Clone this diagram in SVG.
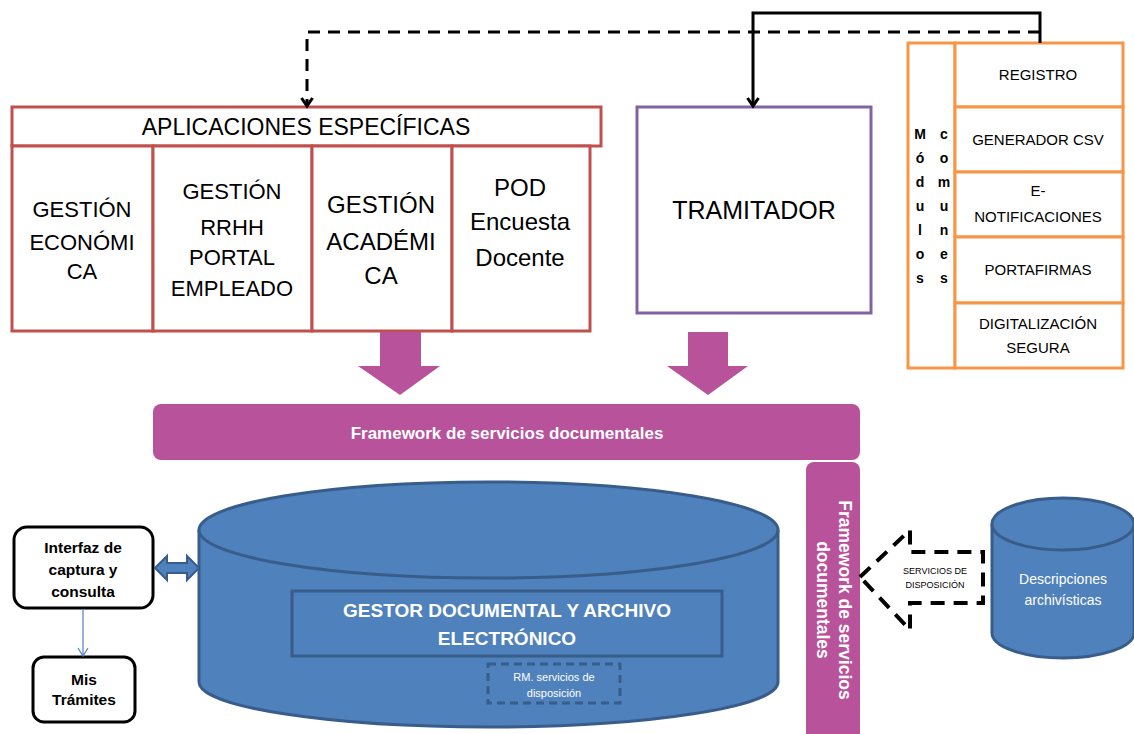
<svg xmlns="http://www.w3.org/2000/svg" width="1134" height="734" viewBox="0 0 1134 734">
<defs>
<style>
text{font-family:"Liberation Sans",Arial,sans-serif;fill:#000;text-anchor:middle}
.red{fill:#fff;stroke:#C0504D;stroke-width:3}
.org{fill:#fff;stroke:#F79646;stroke-width:3}
.pur{fill:#fff;stroke:#8064A2;stroke-width:3}
.bar{fill:#B7529B}
.blue{fill:#4F81BD;stroke:#385D8A;stroke-width:3}
.rbox{fill:#fff;stroke:#000;stroke-width:3}
.t22{font-size:22px}
.t24{font-size:24px}
.t15{font-size:15px}
.w{fill:#fff}
.b{font-weight:bold}
</style>
<marker id="ah" markerWidth="14" markerHeight="14" refX="11" refY="7" orient="auto" markerUnits="userSpaceOnUse" viewBox="0 0 14 14">
<path d="M3,1.5 L11,7 L3,12.5" fill="none" stroke="#000" stroke-width="3"/>
</marker>
<marker id="ahb" markerWidth="12" markerHeight="12" refX="10" refY="6" orient="auto" markerUnits="userSpaceOnUse" viewBox="0 0 12 12">
<path d="M2,1 L10,6 L2,11" fill="none" stroke="#4F81BD" stroke-width="1.2"/>
</marker>
</defs>
<rect width="1134" height="734" fill="#fff"/>

<g id="aplicaciones">
<rect class="red" x="12" y="107" width="589" height="39"/>
<text font-size="23" x="306" y="135">APLICACIONES ESPECÍFICAS</text>
<rect class="red" x="12" y="146" width="141" height="185"/>
<rect class="red" x="153" y="146" width="159" height="185"/>
<rect class="red" x="312" y="146" width="140" height="185"/>
<rect class="red" x="452" y="146" width="138" height="185"/>
</g>
<g id="gestion-economica">
<text class="t22" x="82" y="217">GESTIÓN</text>
<text class="t22" x="82" y="250">ECONÓMI</text>
<text class="t22" x="82" y="279">CA</text>
</g>
<g id="gestion-rrhh">
<text class="t22" x="232" y="199">GESTIÓN</text>
<text class="t22" x="232" y="235">RRHH</text>
<text class="t22" x="232" y="265">PORTAL</text>
<text class="t22" x="232" y="296">EMPLEADO</text>
</g>
<g id="gestion-academica">
<text class="t24" x="381" y="213">GESTIÓN</text>
<text class="t24" x="381" y="250">ACADÉMI</text>
<text class="t24" x="381" y="284">CA</text>
</g>
<g id="pod">
<text class="t24" x="520" y="196">POD</text>
<text class="t24" x="520" y="230">Encuesta</text>
<text class="t24" x="520" y="266">Docente</text>
</g>

<g id="tramitador">
<rect class="pur" x="637" y="107" width="234" height="206"/>
<text font-size="25" x="754" y="219">TRAMITADOR</text>
</g>

<g id="modulos">
<rect class="org" x="908" y="43" width="47" height="325"/>
<g class="b" font-size="14">
<text x="920" y="139">M</text><text x="920" y="163">ó</text><text x="920" y="187">d</text><text x="920" y="211">u</text><text x="920" y="235">l</text><text x="920" y="259">o</text><text x="920" y="283">s</text>
<text x="944" y="139">c</text><text x="944" y="163">o</text><text x="944" y="187">m</text><text x="944" y="211">u</text><text x="944" y="235">n</text><text x="944" y="259">e</text><text x="944" y="283">s</text>
</g>
</g>
<g id="registro"><rect class="org" x="955" y="43" width="168" height="64"/><text class="t15" x="1038" y="80">REGISTRO</text></g>
<g id="generador"><rect class="org" x="955" y="107" width="168" height="65"/><text class="t15" x="1038" y="145">GENERADOR CSV</text></g>
<g id="notificaciones"><rect class="org" x="955" y="172" width="168" height="65"/><text class="t15" x="1038" y="196">E-</text><text class="t15" x="1038" y="222">NOTIFICACIONES</text></g>
<g id="portafirmas"><rect class="org" x="955" y="237" width="168" height="66"/><text class="t15" x="1038" y="275">PORTAFIRMAS</text></g>
<g id="digitalizacion"><rect class="org" x="955" y="303" width="168" height="65"/><text class="t15" x="1038" y="329">DIGITALIZACIÓN</text><text class="t15" x="1038" y="353">SEGURA</text></g>

<g id="framework-h">
<rect class="bar" x="153" y="404" width="707" height="56" rx="8"/>
<text class="b w" font-size="17" x="507" y="439">Framework de servicios documentales</text>
</g>
<g id="framework-v">
<rect class="bar" x="806" y="462" width="54" height="280" rx="8"/>
<g transform="translate(833,600) rotate(90)">
<text class="b w" font-size="17.5" x="0" y="-6">Framework de servicios</text>
<text class="b w" font-size="17.5" x="0" y="16">documentales</text>
</g>
</g>

<g id="gestor">
<path class="blue" d="M199,530 L199,682 A289.5,45 0 0 0 778,682 L778,530"/>
<ellipse class="blue" cx="488.5" cy="530" rx="289.5" ry="48"/>
<rect x="292" y="591" width="430" height="65" fill="none" stroke="#385D8A" stroke-width="3"/>
<text class="b w" font-size="19" x="507" y="617">GESTOR DOCUMENTAL Y ARCHIVO</text>
<text class="b w" font-size="19" x="507" y="645">ELECTRÓNICO</text>
<rect x="488" y="664" width="132" height="39" fill="none" stroke="#385D8A" stroke-width="3" stroke-dasharray="8,5"/>
<text class="w" font-size="11" x="554" y="681">RM. servicios de</text>
<text class="w" font-size="11" x="554" y="697">disposición</text>
</g>

<g id="descripciones">
<path class="blue" d="M992,524 L992,633 A71,25 0 0 0 1134,633 L1134,524"/>
<ellipse class="blue" cx="1063" cy="524" rx="71" ry="26"/>
<text class="w" font-size="14" x="1063" y="584">Descripciones</text>
<text class="w" font-size="14" x="1063" y="605">archivísticas</text>
</g>

<g id="interfaz">
<rect class="rbox" x="14" y="527" width="139" height="81" rx="13"/>
<text class="b" font-size="15.5" x="83" y="553">Interfaz de</text>
<text class="b" font-size="15.5" x="83" y="575">captura y</text>
<text class="b" font-size="15.5" x="83" y="597">consulta</text>
</g>
<g id="mis-tramites">
<rect class="rbox" x="33" y="657" width="102" height="65" rx="11"/>
<text class="b" font-size="15.5" x="84" y="685">Mis</text>
<text class="b" font-size="15.5" x="84" y="705">Trámites</text>
</g>

<g id="connectors">
<polyline points="1040,43 1040,13 753,13 753,106" fill="none" stroke="#000" stroke-width="3" marker-end="url(#ah)"/>
<polyline points="1040,32 307,32 307,106" fill="none" stroke="#000" stroke-width="3" stroke-dasharray="12,8" marker-end="url(#ah)"/>
<polygon points="380,332 421,332 421,366 440,366 400,395 358,366 380,366" fill="#B7529B"/>
<polygon points="688,332 728,332 728,366 748,366 708,395 667,366 688,366" fill="#B7529B"/>
<polygon points="155,568 167,556 167,563 187,563 187,556 199,568 187,580 187,573 167,573 167,580" fill="#4F81BD" stroke="#385D8A" stroke-width="2"/>
<line x1="83" y1="609" x2="83" y2="656" stroke="#4F81BD" stroke-width="1.2" marker-end="url(#ahb)"/>
<polygon points="860,577 910,530 910,552 983,552 983,603 910,603 910,630" fill="#fff" stroke="#000" stroke-width="4" stroke-dasharray="14,9"/>
<text font-size="9" x="935" y="574">SERVICIOS DE</text>
<text font-size="9" x="935" y="588">DISPOSICIÓN</text>
</g>
</svg>
